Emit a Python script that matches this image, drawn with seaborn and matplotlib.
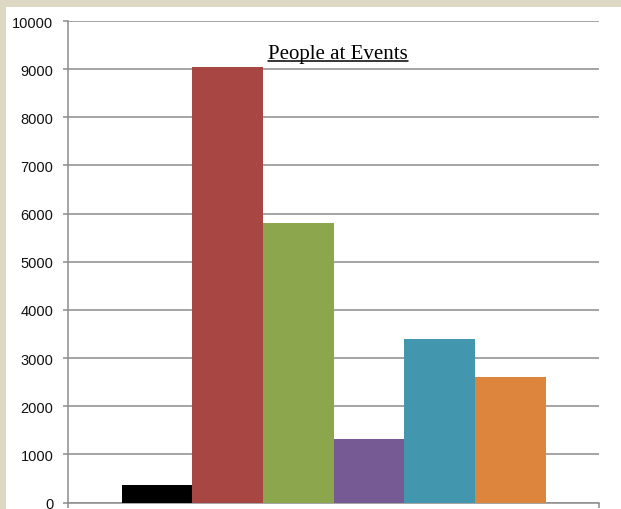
import matplotlib
matplotlib.use("Agg")
import matplotlib.pyplot as plt
from matplotlib.patches import Rectangle
from matplotlib.lines import Line2D
import seaborn as sns
import pandas as pd

# ---- data ----
events = ["Event 1", "Event 2", "Event 3", "Event 4", "Event 5", "Event 6"]
people = [360, 9040, 5810, 1310, 3400, 2600]
colors = ["#000000", "#a84643", "#8ba64c", "#755a94", "#4297ae", "#de853d"]
yticks = [0, 1000, 2000, 3000, 4000, 5000, 6000, 7000, 8000, 9000, 10000]
title = "People at Events"

sns.set_theme(style="white")
W, H = 621, 510
fig = plt.figure(figsize=(W / 100, H / 100), dpi=100)
fig.patch.set_facecolor("#dcd8c4")
fig.patches.append(Rectangle((6 / W, 0), 1 - 6 / W, (H - 8) / H,
                             transform=fig.transFigure, facecolor="white",
                             edgecolor="none", zorder=-10))

left, right, top, bottom = 68, 599, 22, 503.5
ax = fig.add_axes([left / W, (H - bottom) / H, (right - left) / W, (bottom - top) / H])
ax.set_zorder(5)
ax.set_facecolor("none")

df = pd.DataFrame({"event": events, "people": people})
sns.barplot(data=df, x="event", y="people", hue="event", palette=colors,
            width=1.0, saturation=1, legend=False, ax=ax, zorder=3,
            linewidth=0, edgecolor="none")

ax.set_ylim(0, 10000)
ax.set_xlim(-1.26, 6.255)
ax.set_yticks(yticks)
ax.set_yticklabels([str(v) for v in yticks], fontfamily="Liberation Sans",
                   fontsize=10.5, color="#111111")
ax.set_xticks([-1.26, 6.255])
ax.set_xticklabels(["", ""])
ax.set_xlabel("")
ax.set_ylabel("")

grid_c = "#8c8c8c"
ax.yaxis.grid(True, color=grid_c, linewidth=1.1, zorder=1)
ax.set_axisbelow(True)
for s in ["top", "right"]:
    ax.spines[s].set_visible(False)
for s in ["left", "bottom"]:
    ax.spines[s].set_color(grid_c)
    ax.spines[s].set_linewidth(1.1)
ax.tick_params(axis="y", direction="out", length=3.6, width=1.1, color=grid_c, pad=7, left=True)
ax.tick_params(axis="x", direction="out", length=3.6, width=1.1, color=grid_c, bottom=True)

t = ax.text(0.508, (bottom - 59.3) / (bottom - top), title, transform=ax.transAxes,
            ha="center", va="baseline", fontfamily="Liberation Serif",
            fontsize=15, color="black")
fig.canvas.draw()
bb = t.get_window_extent(fig.canvas.get_renderer())
uy = (H - 61.8) / H
fig.lines.append(Line2D([bb.x0 / W, bb.x1 / W], [uy, uy], transform=fig.transFigure,
                        color="black", linewidth=1.1, zorder=10))

fig.savefig("out.png", dpi=100)
